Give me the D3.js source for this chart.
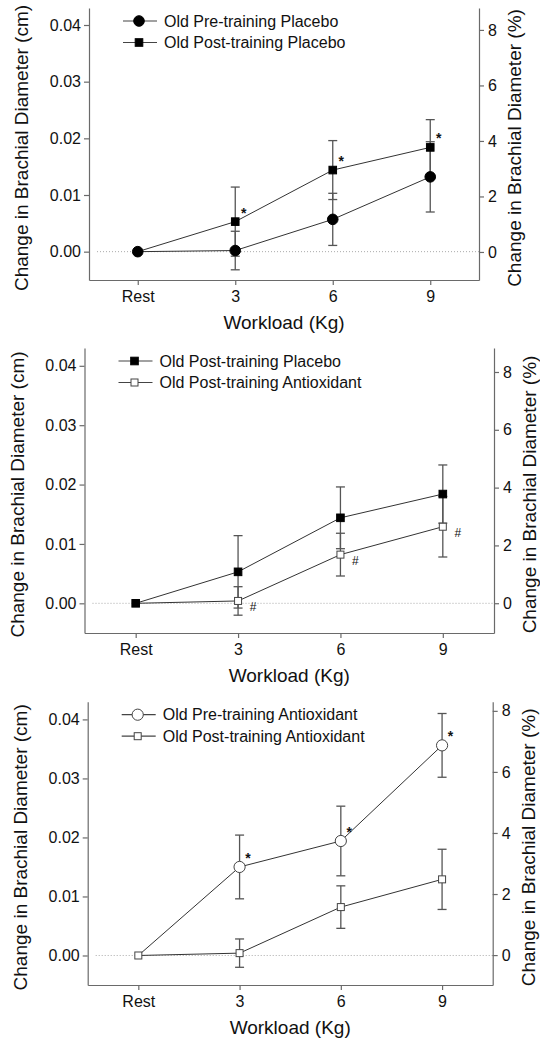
<!DOCTYPE html>
<html>
<head>
<meta charset="utf-8">
<script src="https://cdn.jsdelivr.net/npm/d3@7"></script>
<style>
  body { margin: 0; background: #fff; }
  svg { display: block; font-family: "Liberation Sans", Arial, sans-serif; }
  .axis path, .axis line { stroke: #6a6a6a; stroke-width: 1.2; }
  .axis text { font-size: 16px; fill: #111; }
</style>
</head>
<body>
<script>
// workload levels on the x axis
var workloads = ["Rest", "3", "6", "9"];

// change in brachial diameter (cm), mean and SE
var prePlaceboMean = [0, 0.0002, 0.0057, 0.0132];
var prePlaceboSE = [0, 0.0034, 0.0046, 0.0062];
var postPlaceboMean = [0, 0.0053, 0.0144, 0.0184];
var postPlaceboSE = [0, 0.0061, 0.0052, 0.0049];
var preAntioxMean = [0, 0.0150, 0.0194, 0.0356];
var preAntioxSE = [0, 0.0054, 0.0059, 0.0054];
var postAntioxMean = [0, 0.0004, 0.0082, 0.0129];
var postAntioxSE = [0, 0.0024, 0.0036, 0.0051];

var cmTicks = [0, 0.01, 0.02, 0.03, 0.04];
var pctTicks = [0, 2, 4, 6, 8];

var series = {
    prePlacebo: { name: "Old Pre-training Placebo", mean: prePlaceboMean, se: prePlaceboSE, shape: "circle", fill: "#000" },
    postPlacebo: { name: "Old Post-training Placebo", mean: postPlaceboMean, se: postPlaceboSE, shape: "square", fill: "#000" },
    preAntiox: { name: "Old Pre-training Antioxidant", mean: preAntioxMean, se: preAntioxSE, shape: "circle", fill: "#fff" },
    postAntiox: { name: "Old Post-training Antioxidant", mean: postAntioxMean, se: postAntioxSE, shape: "square", fill: "#fff" }
};

// panel frames (layout only); restOnly = series whose marker is shown at Rest
var panels = [
    { x0: 89, x1: 479, y0: 8, y1: 280, pct: [-1.01, 8.79], keys: ["prePlacebo", "postPlacebo"], restOnly: "prePlacebo", marked: "postPlacebo", sym: "*" },
    { x0: 84.5, x1: 494, y0: 348, y1: 633, pct: [-1.03, 8.83], keys: ["postPlacebo", "postAntiox"], restOnly: "postPlacebo", marked: "postAntiox", sym: "#" },
    { x0: 87.7, x1: 492.7, y0: 701.7, y1: 985, pct: [-0.98, 8.3], keys: ["preAntiox", "postAntiox"], restOnly: "postAntiox", marked: "preAntiox", sym: "*" }
];

var svg = d3.select("body").append("svg")
    .attr("width", 540)
    .attr("height", 1047);

svg.append("rect").attr("width", 540).attr("height", 1047).attr("fill", "#fff");

function drawMarker(g, shape, fill, x, y) {
    if (shape === "circle") {
        g.append("circle")
            .attr("cx", x).attr("cy", y)
            .attr("r", fill === "#000" ? 5.3 : 5.6)
            .attr("fill", fill)
            .attr("stroke", fill === "#000" ? "#000" : "#444")
            .attr("stroke-width", 1);
    } else {
        var s = fill === "#000" ? 7.6 : 7;
        g.append("rect")
            .attr("x", x - s / 2).attr("y", y - s / 2)
            .attr("width", s).attr("height", s)
            .attr("fill", fill)
            .attr("stroke", fill === "#000" ? "#000" : "#444")
            .attr("stroke-width", 1);
    }
}

panels.forEach(function (p) {
    var g = svg.append("g");

    var x = d3.scaleLinear().domain([-0.5, 3.5]).range([p.x0, p.x1]);
    var y = d3.scaleLinear().domain([-0.005, 0.043]).range([p.y1, p.y0]);
    var yPct = d3.scaleLinear().domain(p.pct).range([p.y1, p.y0]);

    // zero reference line
    g.append("line")
        .attr("x1", p.x0 + 8).attr("x2", p.x1)
        .attr("y1", y(0)).attr("y2", y(0))
        .attr("stroke", "#aaa")
        .attr("stroke-width", 1)
        .attr("stroke-dasharray", "1,2");

    g.append("g").attr("class", "axis")
        .attr("transform", "translate(" + p.x0 + ",0)")
        .call(d3.axisLeft(y).tickValues(cmTicks).tickFormat(d3.format(".2f")).tickSize(5).tickSizeOuter(0).tickPadding(3));

    g.append("g").attr("class", "axis")
        .attr("transform", "translate(" + p.x1 + ",0)")
        .call(d3.axisRight(yPct).tickValues(pctTicks).tickSize(5).tickSizeOuter(0).tickPadding(4));

    g.append("g").attr("class", "axis")
        .attr("transform", "translate(0," + p.y1 + ")")
        .call(d3.axisBottom(x).tickValues([0, 1, 2, 3]).tickFormat(function (i) { return workloads[i]; }).tickSize(5).tickSizeOuter(0).tickPadding(6));

    // titles
    g.append("text")
        .attr("x", (p.x0 + p.x1) / 2).attr("y", p.y1 + 49)
        .attr("text-anchor", "middle")
        .attr("font-size", 19).attr("fill", "#111")
        .text("Workload (Kg)");

    g.append("text")
        .attr("transform", "translate(" + (p.x0 - 61) + "," + ((p.y0 + p.y1) / 2 + 4) + ") rotate(-90)")
        .attr("text-anchor", "middle")
        .attr("font-size", 19).attr("fill", "#111")
        .text("Change in Brachial Diameter (cm)");

    g.append("text")
        .attr("transform", "translate(" + (p.x1 + 42) + "," + ((p.y0 + p.y1) / 2 + 4) + ") rotate(-90)")
        .attr("text-anchor", "middle")
        .attr("font-size", 19).attr("fill", "#111")
        .text("Change in Brachial Diameter (%)");

    // error bars
    p.keys.forEach(function (k) {
        var s = series[k];
        s.mean.forEach(function (m, i) {
            if (s.se[i] === 0) return;
            var xc = x(i), top = y(m + s.se[i]), bot = y(m - s.se[i]);
            g.append("line").attr("x1", xc).attr("x2", xc).attr("y1", top).attr("y2", bot)
                .attr("stroke", "#555").attr("stroke-width", 1.3);
            [top, bot].forEach(function (yy) {
                g.append("line").attr("x1", xc - 4.5).attr("x2", xc + 4.5).attr("y1", yy).attr("y2", yy)
                    .attr("stroke", "#555").attr("stroke-width", 1.3);
            });
        });
    });

    // connecting lines
    var line = d3.line().x(function (d, i) { return x(i); }).y(function (d) { return y(d); });
    p.keys.forEach(function (k) {
        g.append("path")
            .attr("d", line(series[k].mean))
            .attr("fill", "none")
            .attr("stroke", "#333")
            .attr("stroke-width", 1);
    });

    // markers (shared Rest point shows one symbol)
    p.keys.forEach(function (k) {
        var s = series[k];
        s.mean.forEach(function (m, i) {
            if (i === 0 && k !== p.restOnly) return;
            drawMarker(g, s.shape, s.fill, x(i), y(m));
        });
    });

    // significance symbols
    var ms = series[p.marked];
    ms.mean.forEach(function (m, i) {
        if (i === 0) return;
        if (p.sym === "*") {
            g.append("text")
                .attr("x", x(i) + 8.5).attr("y", y(m) - 4)
                .attr("text-anchor", "middle")
                .attr("font-size", 14).attr("font-weight", "bold").attr("fill", "#111")
                .text("*");
        } else {
            g.append("text")
                .attr("x", x(i) + 15).attr("y", y(m) + 10)
                .attr("text-anchor", "middle")
                .attr("font-size", 12).attr("fill", "#111")
                .text("#");
        }
    });

    // legend
    p.keys.forEach(function (k, j) {
        var s = series[k];
        var ly = p.y0 + 13 + j * 21.5;
        g.append("line")
            .attr("x1", p.x0 + 34).attr("x2", p.x0 + 68)
            .attr("y1", ly).attr("y2", ly)
            .attr("stroke", "#444").attr("stroke-width", 1.2);
        drawMarker(g, s.shape, s.fill, p.x0 + 50, ly);
        g.append("text")
            .attr("x", p.x0 + 75).attr("y", ly + 5.5)
            .attr("font-size", 16).attr("fill", "#111")
            .text(s.name);
    });
});
</script>
</body>
</html>
